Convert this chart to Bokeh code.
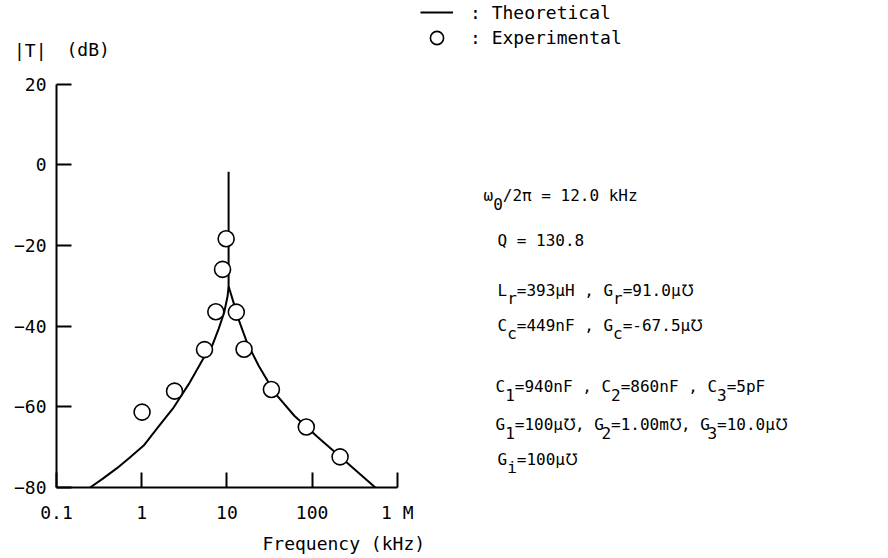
from bokeh.plotting import figure
from bokeh.models import Range1d, FixedTicker, Label, Legend, LegendItem, Title, LinearAxis
from bokeh.embed import file_html
from bokeh.resources import INLINE

# ---------------- data ----------------
theo_freq_khz = [0.248, 0.35, 0.513, 0.72, 1.056, 1.59, 2.38, 3.58, 5.39, 6.48, 7.98, 9.29,
                 10.2, 10.47, 10.47, 10.47, 10.75, 12.0, 13.7, 17.2, 23.6, 36.0, 61.8, 116,
                 189, 552]
theo_db = [-80, -77.8, -75.2, -72.6, -69.6, -64.8, -60.1, -54.3, -47.7, -45.7, -40.7, -36.6,
           -32.5, -30.0, -1.7, -30.0, -30.9, -34.2, -38.3, -44.0, -49.8, -56.4, -62.2, -67.5,
           -71.4, -80]

exp_freq_khz = [1.01, 2.43, 5.46, 7.41, 8.89, 9.8, 12.9, 15.9, 33.3, 85.5, 213]
exp_db = [-61.3, -56.1, -45.8, -36.4, -25.9, -18.3, -36.5, -45.7, -55.7, -65.0, -72.4]

x_ticks = [0.1, 1, 10, 100, 1000]
x_tick_labels = ["0.1", "1", "10", "100", "1 M"]
y_ticks = [-80, -60, -40, -20, 0, 20]

legend_labels = [": Theoretical", ": Experimental"]
y_title_sym = "|T|"
y_title_unit = "(dB)"
x_title = "Frequency (kHz)"
notes = [
    "ω_0/2π = 12.0 kHz",
    "Q = 130.8",
    "L_r=393μH , G_r=91.0μ℧",
    "C_c=449nF , G_c=-67.5μ℧",
    "C_1=940nF , C_2=860nF , C_3=5pF",
    "G_1=100μ℧, G_2=1.00m℧, G_3=10.0μ℧",
    "G_i=100μ℧",
]

# ---------------- layout ----------------
W, H = 888, 558
FL = 56                  # frame left (px)
FBOT = 488               # frame bottom (px from top) = -80 dB
DEC = 85.2               # px per decade
DBPX = 4.04              # px per dB
x_end = 10 ** (-1 + (W - FL) / DEC)
y_top = -80 + FBOT / DBPX
Y_TITLE = 28.5           # level of the |T| heading (dB scale, above the axis)
MONO = "DejaVu Sans Mono"
NB = "\u00a0"

p = figure(width=W, height=H, x_axis_type="log", title=None,
           x_range=Range1d(0.1, x_end), y_range=Range1d(-80, y_top),
           output_backend="svg", toolbar_location=None,
           min_border_left=FL, min_border_right=0, min_border_top=0,
           min_border_bottom=H - FBOT)
p.outline_line_color = None
p.grid.visible = False
p.background_fill_color = "white"

xa = p.xaxis[0]
xa.ticker = FixedTicker(ticks=x_ticks, minor_ticks=[])
xa.major_label_overrides = {t: l for t, l in zip(x_ticks, x_tick_labels)}
xa.bounds = (0.1, 1000)

# axis next to the frame: line + ticks only
ya = p.yaxis[0]
ya.ticker = FixedTicker(ticks=y_ticks, minor_ticks=[])
ya.bounds = (-80, 20)
ya.major_label_overrides = {t: "" for t in y_ticks}
ya.major_label_text_font_size = "0px"
ya.major_label_standoff = 0

for ax in (xa, ya):
    ax.major_tick_in = 15
    ax.major_tick_out = 0
    ax.minor_tick_in = 0
    ax.minor_tick_out = 0
    ax.axis_line_width = 2
    ax.major_tick_line_width = 2
    ax.axis_line_color = "black"
    ax.major_tick_line_color = "black"
xa.major_label_text_font = MONO
xa.major_label_text_font_size = "18px"
xa.major_label_text_color = "black"
xa.major_label_standoff = 14

# outer axis: the tick labels, plus the |T| heading
yl = LinearAxis(ticker=FixedTicker(ticks=y_ticks + [Y_TITLE], minor_ticks=[]),
                bounds=(-80, Y_TITLE), major_label_overrides={Y_TITLE: y_title_sym},
                axis_line_color=None, major_tick_line_color=None, minor_tick_line_color=None,
                major_tick_in=0, major_tick_out=0, minor_tick_in=0, minor_tick_out=0,
                major_label_standoff=10, major_label_text_font=MONO,
                major_label_text_font_size="18px", major_label_text_color="black")
p.add_layout(yl, "left")

r_line = p.line(theo_freq_khz, theo_db, line_width=2, line_color="black")
r_pts = p.scatter(exp_freq_khz, exp_db, marker="circle", size=16, fill_color="white",
                  line_color="black", line_width=1.6)


def make_legend(label, renderer, gh, loc):
    lg = Legend(items=[LegendItem(label=label, renderers=[renderer])],
                glyph_width=33, glyph_height=gh, label_height=gh,
                label_text_font=MONO, label_text_font_size="18px", label_standoff=17,
                label_text_color="black",
                padding=0, margin=0, spacing=0, border_line_color=None,
                background_fill_alpha=0, location=loc)
    p.add_layout(lg)


make_legend(legend_labels[0], r_line, 22, (364, 464))
make_legend(legend_labels[1], r_pts, 35, (364, 432))

p.add_layout(Title(text=x_title, align="left", offset=262 - FL, vertical_align="bottom",
                   standoff=10, text_font=MONO, text_font_size="18px",
                   text_font_style="normal", text_color="black"), "below")


def put(text, sx, sy, size):
    p.add_layout(Label(x=sx, y=sy, x_units="screen", y_units="screen", text=text,
                       text_font=MONO, text_font_size=f"{size}px", text_baseline="middle",
                       text_align="left", text_color="black"))


put(y_title_unit, 66 - FL, FBOT - 50, 18)


def add_note(txt, x_ref, y_ref, size):
    adv = 0.60205 * size
    sx0 = x_ref - FL
    sy = FBOT - y_ref
    col = 0
    chunk = ""
    start = 0
    i = 0
    while i < len(txt):
        if txt[i] == "_":
            if chunk:
                put(chunk, sx0 + start * adv, sy, size)
            put(txt[i + 1], sx0 + col * adv, sy - 8, size)
            col += 1
            chunk = ""
            start = col
            i += 2
        else:
            chunk += NB if txt[i] == " " else txt[i]
            col += 1
            i += 1
    if chunk:
        put(chunk, sx0 + start * adv, sy, size)


note_x = [483, 497, 497, 497, 495, 495, 497]
note_y = [196, 241, 291, 326, 387, 425, 460]
for t, nx, ny in zip(notes, note_x, note_y):
    add_note(t, nx, ny, 16)

open("out.html", "w").write(file_html(p, INLINE))
